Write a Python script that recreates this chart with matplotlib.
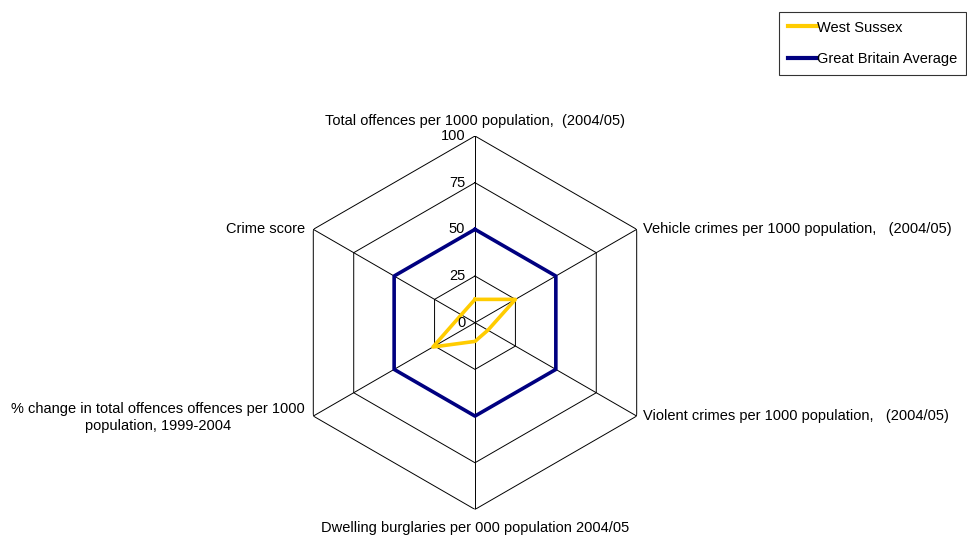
import numpy as np
import matplotlib.pyplot as plt

plt.rcParams['font.family'] = ['Liberation Sans', 'DejaVu Sans']

# data
categories = ['Total offences per 1000 population,  (2004/05)',
              'Vehicle crimes per 1000 population,   (2004/05)',
              'Violent crimes per 1000 population,   (2004/05)',
              'Dwelling burglaries per 000 population 2004/05',
              '% change in total offences offences per 1000\npopulation, 1999-2004',
              'Crime score']
west_sussex = [12.5, 25, 8, 10, 26, 8.5]
gb_average = [50, 50, 50, 50, 50, 50]
levels = [0, 25, 50, 75, 100]

n = len(categories)
angles = np.linspace(0, 2 * np.pi, n, endpoint=False)
closed = np.append(angles, angles[0])

fig = plt.figure(figsize=(9.67, 5.35), dpi=100)
ax = fig.add_axes([0.2981, 0.0478, 0.3862, 0.698], projection='polar')
ax.set_theta_offset(np.pi / 2)
ax.set_theta_direction(-1)
ax.set_ylim(0, 100)
ax.grid(False)
ax.spines['polar'].set_visible(False)
ax.set_xticks([])
ax.set_yticks([])
ax.patch.set_alpha(0)

# hexagon grid + spokes
for lv in levels[1:]:
    ax.plot(closed, [lv] * (n + 1), color='black', lw=0.7, zorder=1)
for a in angles:
    ax.plot([a, a], [0, 100], color='black', lw=0.7, zorder=1)

# series
ax.plot(closed, west_sussex + west_sussex[:1], color='#FFCC00', lw=2.6,
        label='West Sussex', zorder=3)
ax.plot(closed, gb_average + gb_average[:1], color='#000080', lw=2.6,
        label='Great Britain Average', zorder=3)

fs = 10.5

# radial labels
for lv in levels:
    ax.annotate(str(lv), xy=(0, lv), xytext=(-7, 0), textcoords='offset points',
                ha='right', va='center', fontsize=fs)

# category labels
offsets = [(0, 6, 'center', 'bottom'),
           (4.5, 0, 'left', 'center'),
           (4.5, 0, 'left', 'center'),
           (0, -8, 'center', 'top'),
           (-6, -1, 'right', 'center'),
           (-6, 0, 'right', 'center')]
for a, lab, (dx, dy, ha, va) in zip(angles, categories, offsets):
    ax.annotate(lab, xy=(a, 100), xytext=(dx, dy), textcoords='offset points',
                ha=ha, va=va, fontsize=fs, multialignment='center')

leg = fig.legend(loc='upper right', bbox_to_anchor=(0.999, 0.978),
                 fancybox=False, edgecolor='black', fontsize=fs,
                 handlelength=2.0, handletextpad=0.0, labelspacing=1.2,
                 borderpad=0.6, borderaxespad=0)
leg.get_frame().set_linewidth(0.8)
for h in leg.get_lines():
    h.set_linewidth(3)

fig.savefig('out.png', dpi=100)
